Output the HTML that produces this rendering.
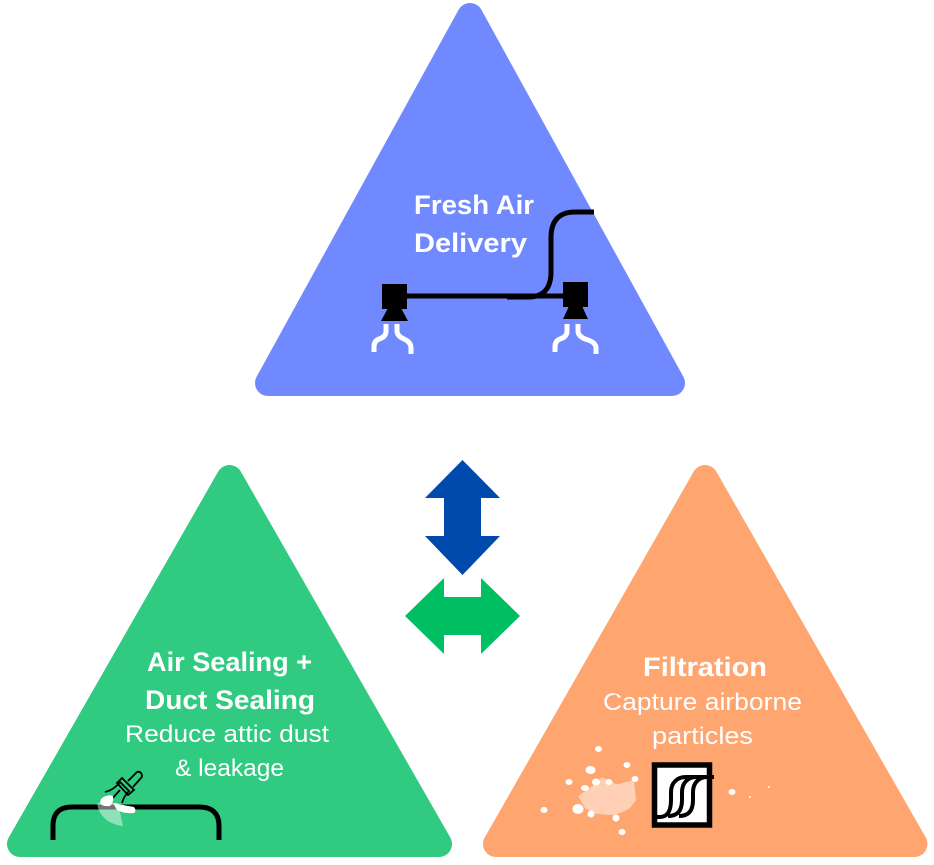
<!DOCTYPE html>
<html><head><meta charset="utf-8"><style>html,body{margin:0;padding:0;background:#fff}svg{display:block}text{font-family:"Liberation Sans",sans-serif;fill:#fff}</style></head><body>
<svg width="934" height="865" viewBox="0 0 934 865" xmlns="http://www.w3.org/2000/svg">
<polygon points="470,16 672,383 268,383" fill="#7089FF" stroke="#7089FF" stroke-width="26" stroke-linejoin="round"/>
<polygon points="229.5,478 439,844 20,844" fill="#30CA80" stroke="#30CA80" stroke-width="26" stroke-linejoin="round"/>
<polygon points="705,478 914.500,844 496,844" fill="#FFA56F" stroke="#FFA56F" stroke-width="26" stroke-linejoin="round"/>
<polygon points="462.500,460 500,498 481,498 481,536 500,536 462.500,575 425,536 444,536 444,498 425,498" fill="#0049AD"/>
<polygon points="405,616 444,578 444,597 481,597 481,578 520,616 481,654 481,635 444,635 444,654" fill="#00BF63"/>

<text x="414" y="214" font-size="27" font-weight="700" textLength="120" lengthAdjust="spacingAndGlyphs">Fresh Air</text>
<text x="414" y="252" font-size="27" font-weight="700" textLength="113" lengthAdjust="spacingAndGlyphs">Delivery</text>
<text x="147" y="671" font-size="27" font-weight="700" textLength="165" lengthAdjust="spacingAndGlyphs">Air Sealing +</text>
<text x="145" y="709" font-size="27" font-weight="700" textLength="170" lengthAdjust="spacingAndGlyphs">Duct Sealing</text>
<text x="125" y="742" font-size="24" textLength="204" lengthAdjust="spacingAndGlyphs">Reduce attic dust</text>
<text x="175" y="776" font-size="24" textLength="109" lengthAdjust="spacingAndGlyphs">&amp; leakage</text>
<text x="643" y="676" font-size="27" font-weight="700" textLength="124" lengthAdjust="spacingAndGlyphs">Filtration</text>
<text x="603" y="710" font-size="24" textLength="199" lengthAdjust="spacingAndGlyphs">Capture airborne</text>
<text x="652" y="744" font-size="24" textLength="101" lengthAdjust="spacingAndGlyphs">particles</text>

<!-- Fresh air ducts -->
<path d="M405 296H565" fill="none" stroke="#000" stroke-width="5"/>
<path d="M507 297H528Q551 297 551 272V238Q551 212 575 212H594" fill="none" stroke="#000" stroke-width="5"/>
<rect x="382" y="284" width="25" height="25" fill="#000"/>
<polygon points="388,308 401,308 408,321 381,321" fill="#000"/>
<rect x="563" y="282" width="25" height="25" fill="#000"/>
<polygon points="569,306 582,306 588,319 563,319" fill="#000"/>
<g fill="none" stroke="#fff" stroke-width="5">
<path d="M386 324V331Q386 337 379 339Q374 341 374 347V352"/>
<path d="M397 324V331Q397 336 404 339Q411 342 411 348V354"/>
<path d="M567 324V331Q567 337 560 339Q555 341 555 347V352"/>
<path d="M578 324V331Q578 336 585 339Q596 342 596 348V354"/>
</g>

<!-- Duct with brush -->
<path d="M53 840V826Q53 807 72 807H199Q219 807 219 826V840" fill="none" stroke="#000" stroke-width="5"/>
<path d="M97 803H118L123 826Q104 824 98 808Z" fill="#fff" fill-opacity=".45"/>
<g fill="none" stroke="#000" stroke-width="1.800">
<path d="M105 792Q114 790 120 782L129 791Q124 796 122 803"/>
<path d="M122 778L134 790L128 795L117 783Z"/>
<path d="M128 781L137 772Q139 771 141 773Q143 776 141 778L133 787"/>
<path d="M110 801L120 790"/>
</g>
<path d="M101 799Q107 794 113 796Q114 803 110 806Q102 807 100 803Z" fill="#fff"/>
<path d="M113 803Q122 805 134 807Q137 811 134 813Q124 814 117 810Z" fill="#fff"/>

<!-- Filtration -->
<path d="M578 796L590 788Q596 783 602 777L613 783Q618 785 622 783L634 780L636 800L630 808Q622 813 613 815Q602 815 593 813L585 808Z" fill="#FFD0B5"/>
<g fill="#fff">
<ellipse cx="598.500" cy="749" rx="3.500" ry="3"/><ellipse cx="590.500" cy="770" rx="5" ry="4"/>
<ellipse cx="627" cy="765" rx="3.500" ry="3"/><ellipse cx="569" cy="782" rx="3.500" ry="3"/>
<ellipse cx="596" cy="782" rx="4" ry="3.500"/><ellipse cx="609" cy="782" rx="3.500" ry="3"/>
<ellipse cx="635" cy="779" rx="3.500" ry="3"/><ellipse cx="585" cy="788" rx="4" ry="3"/>
<ellipse cx="544" cy="810" rx="3.500" ry="3"/><ellipse cx="578" cy="809" rx="5.500" ry="5"/>
<ellipse cx="591" cy="814" rx="3.500" ry="3.500"/><ellipse cx="616" cy="818" rx="3.500" ry="3.500"/>
<ellipse cx="622" cy="832" rx="3.500" ry="3"/><ellipse cx="732" cy="792" rx="3.500" ry="3"/>
<circle cx="750" cy="797" r="1"/><circle cx="769" cy="787" r="1"/>
<circle cx="615" cy="697" r="2.500" fill="#FFA56F"/>
</g>
<rect x="654.500" y="765" width="55" height="60" fill="#fff" stroke="#000" stroke-width="5.500"/>
<g fill="none" stroke="#000" stroke-width="4">
<path d="M656 817H660C668 817 671 810 671 800V792C671 783 677 777 686 777H714"/>
<path d="M668 816C678 816 682 810 682 800V792C682 783 688 777 696 777"/>
<path d="M679 816C689 816 693 810 693 800V792C693 783 699 777 707 777"/>
</g>
</svg>
</body></html>
